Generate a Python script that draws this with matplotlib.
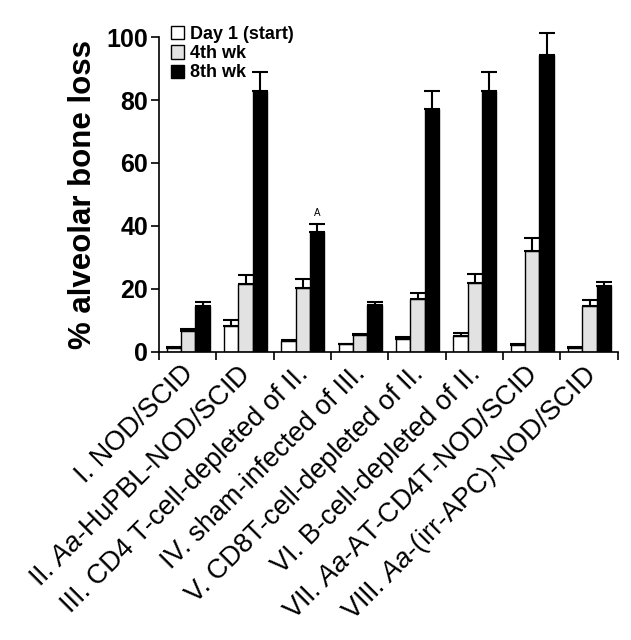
import matplotlib
matplotlib.use("Agg")
import matplotlib.pyplot as plt
import matplotlib.transforms as mtransforms
import numpy as np

plt.rcParams['font.family'] = ['Liberation Sans', 'DejaVu Sans']
plt.rcParams['mathtext.fontset'] = 'custom'
plt.rcParams['mathtext.it'] = 'Liberation Sans:italic'
plt.rcParams['mathtext.rm'] = 'Liberation Sans'

categories = [
    "I. NOD/SCID",
    r"II. $\mathit{Aa}$-HuPBL-NOD/SCID",
    "III. CD4 T-cell-depleted of II.",
    "IV. sham-infected of III.",
    "V. CD8T-cell-depleted of II.",
    "VI. B-cell-depleted of II.",
    r"VII. $\mathit{Aa}$-AT-CD4T-NOD/SCID",
    r"VIII. $\mathit{Aa}$-(irr-APC)-NOD/SCID",
]
series_names = ["Day 1 (start)", "4th wk", "8th wk"]
day1 = [1.3, 8.3, 3.3, 2.3, 4.0, 5.0, 2.1, 1.2]
wk4 = [6.6, 21.6, 20.1, 5.2, 16.6, 21.9, 32.0, 14.6]
wk8 = [14.6, 83.0, 37.9, 14.7, 77.0, 83.0, 94.3, 20.8]
day1_err = [0.3, 1.7, 0.4, 0.3, 0.8, 1.0, 0.3, 0.2]
wk4_err = [0.5, 2.7, 2.9, 0.4, 1.9, 2.8, 4.1, 1.9]
wk8_err = [1.1, 6.0, 2.7, 1.0, 5.8, 5.9, 7.0, 1.3]
yticks = [0, 20, 40, 60, 80, 100]

fig = plt.figure(figsize=(6.31, 6.4), dpi=100)
ax = fig.add_axes([0.252, 0.4505, 0.727, 0.4915])

n = len(categories)
x = np.arange(n)
width = 0.25
offsets = [0.26, 0.51, 0.76]
faces = ['white', '#e2e2e2', 'black']
data = [day1, wk4, wk8]
errs = [day1_err, wk4_err, wk8_err]
for k in range(3):
    ax.bar(x + offsets[k], data[k], width, color=faces[k], edgecolor='black',
           linewidth=1.0, label=series_names[k], zorder=2)
    ax.errorbar(x + offsets[k], data[k], yerr=[np.zeros(n), errs[k]], fmt='none',
                ecolor='black', elinewidth=1.5, capsize=6, capthick=1.5,
                clip_on=False, zorder=3)

ax.text(2 + offsets[2], 42.5, "A", ha='center', va='bottom', fontsize=7)

ax.set_xlim(0, n)
ax.set_ylim(0, 100)
ax.spines['top'].set_visible(False)
ax.spines['right'].set_visible(False)
ax.spines['left'].set_linewidth(1.2)
ax.spines['bottom'].set_linewidth(1.2)

ax.set_yticks(yticks)
ax.set_yticklabels([str(v) for v in yticks], fontsize=18, fontweight='bold')
ax.tick_params(axis='y', length=6, width=1.2, pad=2)

ax.set_xticks(np.arange(n + 1))
ax.set_xticklabels([])
ax.tick_params(axis='x', which='major', length=6, width=1.2)
ax.set_xticks(x + 0.5, minor=True)
ax.set_xticklabels(categories, minor=True, rotation=45, ha='right',
                   rotation_mode='anchor', fontsize=19.5)
ax.tick_params(axis='x', which='minor', length=0, pad=8)
shift = mtransforms.ScaledTranslation(-7 / 100, 2 / 100, fig.dpi_scale_trans)
for lab in ax.get_xticklabels(minor=True):
    lab.set_transform(lab.get_transform() + shift)

ax.set_ylabel("% alveolar bone loss", fontsize=22.5, fontweight='bold', labelpad=6)

leg = ax.legend(loc='upper left', bbox_to_anchor=(0.01, 1.058), frameon=False,
                fontsize=13, handlelength=0.75, handleheight=0.75,
                handletextpad=0.3, labelspacing=0.12, borderaxespad=0)
for t in leg.get_texts():
    t.set_fontweight('bold')

fig.savefig("out.png", dpi=100)
